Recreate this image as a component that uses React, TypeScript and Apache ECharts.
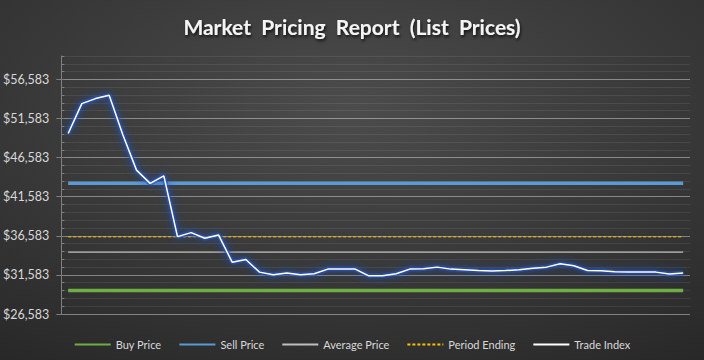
import { useEffect, useRef } from 'react';
import * as echarts from 'echarts';

const titleText = 'Market  Pricing  Report  (List  Prices)';

const categories = [
  'P01', 'P02', 'P03', 'P04', 'P05', 'P06', 'P07', 'P08', 'P09', 'P10',
  'P11', 'P12', 'P13', 'P14', 'P15', 'P16', 'P17', 'P18', 'P19', 'P20',
  'P21', 'P22', 'P23', 'P24', 'P25', 'P26', 'P27', 'P28', 'P29', 'P30',
  'P31', 'P32', 'P33', 'P34', 'P35', 'P36', 'P37', 'P38', 'P39', 'P40',
  'P41', 'P42', 'P43', 'P44', 'P45', 'P46',
];

const tradeIndex = [
  49670, 53496, 54134, 54555, 49500, 44988, 43292, 44261, 36481, 36991,
  36277, 36698, 33216, 33547, 31940, 31596, 31813, 31596, 31723, 32323,
  32323, 32323, 31468, 31468, 31723, 32323, 32360, 32578, 32323, 32234,
  32144, 32068, 32144, 32234, 32450, 32578, 32999, 32744, 32144, 32106,
  31978, 31940, 31940, 31940, 31685, 31813,
];

const buyPrice = 29583;
const sellPrice = 43300;
const averagePrice = 34500;
const periodEnding = 36450;

const seriesNames = ['Buy Price', 'Sell Price', 'Average Price', 'Period Ending', 'Trade Index'];

const yMin = 26583;
const yMax = 59583;
const yMajor = 5000;
const yMinor = 1000;

const FONT = 'Lato, "Open Sans", sans-serif';
const MAJOR = 'rgba(255,255,255,0.40)';
const MINOR = 'rgba(255,255,255,0.08)';

export default function App() {
  const ref = useRef<HTMLDivElement>(null);
  useEffect(() => {
    document.body.style.margin = '0';
    const chart = echarts.init(ref.current!, null, { renderer: 'svg' });
    const flat = (v: number) => categories.map(() => v);
    const option: any = {
      animation: false,
      backgroundColor: {
        type: 'radial', x: 0.5, y: 0.3, r: 1.0,
        colorStops: [
          { offset: 0, color: '#4c4c4c' },
          { offset: 1, color: '#222222' },
        ],
      },
      title: {
        text: titleText,
        left: 'center',
        top: 11,
        textStyle: {
          fontFamily: FONT,
          fontWeight: 'bold',
          fontSize: 21,
          color: '#f4f4f4',
          textShadowColor: 'rgba(0,0,0,0.75)',
          textShadowBlur: 3,
          textShadowOffsetX: 1,
          textShadowOffsetY: 2,
        },
      },
      legend: {
        left: 'center',
        top: 334,
        itemWidth: 36,
        itemHeight: 12,
        itemGap: 17,
        textStyle: { color: '#d9d9d9', fontFamily: FONT, fontSize: 11 },
        itemStyle: { color: 'transparent', borderColor: 'transparent', borderWidth: 0, opacity: 0 },
        data: seriesNames.map((n) => ({
          name: n,
          lineStyle: { shadowBlur: 0, shadowOffsetY: 0, shadowColor: 'transparent' },
        })),
      },
      grid: { left: 60, right: 14, top: 56, bottom: 46, containLabel: false },
      xAxis: {
        type: 'category',
        data: categories,
        boundaryGap: true,
        axisLine: { show: false },
        axisTick: { show: false },
        axisLabel: { show: false },
        splitLine: { show: false },
      },
      yAxis: [
        {
          type: 'value',
          position: 'left',
          min: yMin,
          max: yMax,
          interval: yMinor,
          axisLine: { show: false },
          axisTick: { show: true, inside: true, length: 3, lineStyle: { color: '#7f7f7f' } },
          axisLabel: { show: false },
          splitLine: {
            show: true,
            lineStyle: { color: ['transparent', MINOR, MINOR, MINOR, MINOR], width: 1 },
          },
        },
        {
          type: 'value',
          position: 'left',
          min: yMin,
          max: yMax,
          interval: yMajor,
          axisLine: { show: true, lineStyle: { color: '#7f7f7f', width: 1 } },
          axisTick: { show: true, inside: false, length: 5, lineStyle: { color: '#7f7f7f' } },
          axisLabel: {
            show: true,
            showMaxLabel: false,
            margin: 12,
            color: '#d9d9d9',
            fontFamily: FONT,
            fontSize: 12.5,
            formatter: (v: number) => '$' + v.toLocaleString('en-US'),
          },
          splitLine: { show: true, showMaxLine: false, lineStyle: { color: MAJOR, width: 1 } },
        },
      ],
      series: [
        {
          name: seriesNames[0], type: 'line', data: flat(buyPrice), symbol: 'none', silent: true,
          lineStyle: { color: '#70ad47', width: 3.5 },
          itemStyle: { color: '#70ad47' },
        },
        {
          name: seriesNames[1], type: 'line', data: flat(sellPrice), symbol: 'none', silent: true,
          lineStyle: { color: '#5b9bd5', width: 3.5 },
          itemStyle: { color: '#5b9bd5' },
        },
        {
          name: seriesNames[2], type: 'line', data: flat(averagePrice), symbol: 'none', silent: true,
          lineStyle: { color: '#bfbfbf', width: 1.25 },
          itemStyle: { color: '#bfbfbf' },
        },
        {
          name: seriesNames[3], type: 'line', data: flat(periodEnding), symbol: 'none', silent: true,
          lineStyle: { color: '#ffc000', width: 1, type: [3, 2] },
          itemStyle: { color: '#ffc000' },
        },
        {
          name: 'glow', type: 'line', data: tradeIndex, symbol: 'none', silent: true,
          lineStyle: { color: 'rgba(35,85,190,0.6)', width: 5, shadowColor: 'rgba(30,80,200,0.95)', shadowBlur: 8 },
          itemStyle: { color: 'rgba(35,85,190,0.6)' },
        },
        {
          name: seriesNames[4], type: 'line', data: tradeIndex, symbol: 'none', silent: true,
          lineStyle: { color: '#ffffff', width: 1.5 },
          itemStyle: { color: '#ffffff' },
        },
      ],
    };
    chart.setOption(option);
    return () => chart.dispose();
  }, []);
  return <div ref={ref} style={{ width: 704, height: 360 }} />;
}
